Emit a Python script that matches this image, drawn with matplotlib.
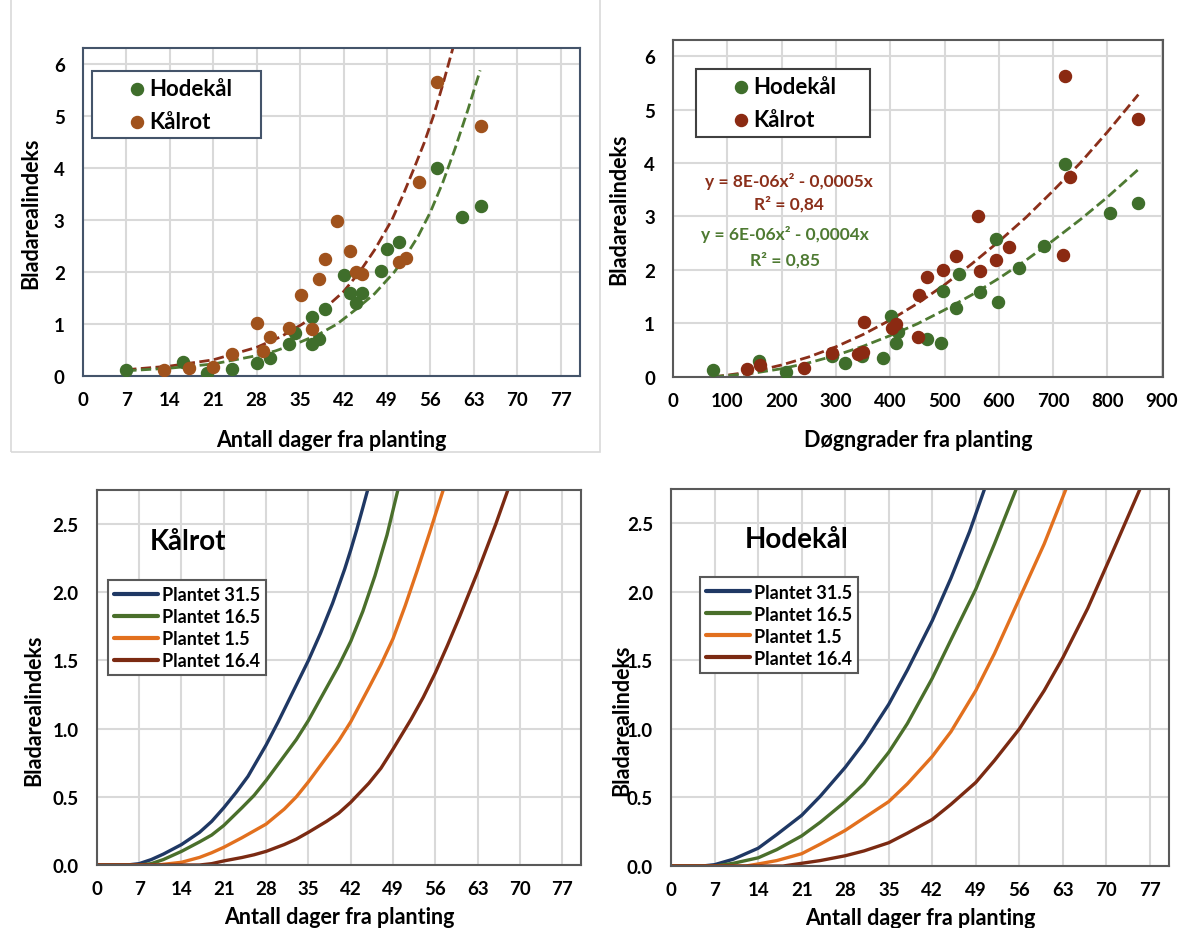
import matplotlib.pyplot as plt
from matplotlib.patches import Rectangle
import numpy as np

plt.rcParams['font.family'] = ['Lato', 'DejaVu Sans']
plt.rcParams['font.weight'] = 'bold'

# ---- top left: LAI vs days ----
hk_days = [7, 16.1, 20, 24, 28.1, 30.1, 33.2, 34.2, 37, 37, 38, 39, 42, 43, 44, 45, 48, 49, 51, 57.1, 61.1, 64.1]
hk_lai = [0.12, 0.26, 0.06, 0.14, 0.24, 0.34, 0.62, 0.83, 1.14, 0.62, 0.71, 1.28, 1.93, 1.60, 1.41, 1.59, 2.02, 2.44, 2.57, 3.99, 3.06, 3.26]
kr_days = [13.1, 17.1, 21, 24.1, 28.1, 29.1, 30.1, 33.2, 35.2, 37, 38, 39, 41, 43, 44, 45, 51, 52, 54.1, 57.1, 64.1]
kr_lai = [0.12, 0.16, 0.17, 0.42, 1.01, 0.48, 0.74, 0.93, 1.55, 0.90, 1.86, 2.25, 2.98, 2.40, 2.00, 1.96, 2.18, 2.26, 3.72, 5.64, 4.81]

# trend lines
hk_trend_x = [7, 14, 21, 28, 31, 35, 38, 41, 44, 47, 50.2, 52, 54, 56, 58, 60, 62, 64]
hk_trend_y = [0.10, 0.15, 0.23, 0.39, 0.48, 0.65, 0.80, 1.00, 1.28, 1.58, 2.00, 2.30, 2.68, 3.15, 3.72, 4.38, 5.10, 5.87]
kr_trend_x = [7, 14, 21, 28, 32, 35.4, 39, 42, 44.6, 47, 49.8, 51.6, 53.4, 55, 56.5, 58, 59.6]
kr_trend_y = [0.12, 0.19, 0.31, 0.55, 0.76, 1.00, 1.30, 1.62, 2.00, 2.42, 3.00, 3.48, 4.00, 4.48, 5.00, 5.60, 6.29]

# ---- top right: LAI vs degree days ----
hk_dd = [74.5, 158.6, 208.3, 293, 317, 348, 386, 401, 410, 415, 468, 493, 498, 521, 526, 566, 594, 599, 638, 683, 721, 805, 857]
hk_dd_lai = [0.12, 0.29, 0.08, 0.39, 0.25, 0.39, 0.35, 1.13, 0.63, 0.83, 0.70, 0.64, 1.61, 1.28, 1.92, 1.58, 2.57, 1.40, 2.04, 2.45, 3.99, 3.07, 3.26]
kr_dd = [136, 160, 241, 293, 340, 350, 352, 403, 410, 452, 453, 467, 498, 521, 562, 566, 594, 619, 718, 721, 731, 857]
kr_dd_lai = [0.14, 0.22, 0.17, 0.45, 0.42, 0.47, 1.02, 0.92, 0.98, 0.75, 1.53, 1.87, 2.00, 2.26, 3.00, 1.98, 2.19, 2.42, 2.27, 5.63, 3.73, 4.83]

dd_trend_x = [75, 100, 150, 200, 250, 300, 350, 400, 450, 500, 550, 600, 650, 700, 750, 800, 857]
kr_dd_trend = [0.0, 0.03, 0.10, 0.22, 0.37, 0.56, 0.79, 1.06, 1.37, 1.72, 2.11, 2.53, 2.98, 3.48, 4.00, 4.58, 5.28]
hk_dd_trend = [0.0, 0.02, 0.07, 0.15, 0.26, 0.40, 0.57, 0.77, 0.99, 1.25, 1.53, 1.84, 2.18, 2.55, 2.94, 3.36, 3.88]

# ---- bottom: simulated LAI for four planting dates ----
labels = ['Plantet 31.5', 'Plantet 16.5', 'Plantet 1.5', 'Plantet 16.4']
colors = ['#1F3864', '#4A6F2B', '#E2701E', '#7B2A12']

kr_curves = [
    ([0, 5, 7, 9, 11, 14, 17, 19, 21, 23, 25, 28, 30, 32, 35, 37, 39, 41, 42, 43, 44, 44.8],
     [0, 0, 0.01, 0.04, 0.08, 0.15, 0.24, 0.32, 0.42, 0.53, 0.65, 0.88, 1.05, 1.23, 1.50, 1.70, 1.92, 2.17, 2.31, 2.46, 2.62, 2.75]),
    ([0, 7, 9, 11, 14, 17, 19, 21, 24, 26, 28, 31, 33, 35, 38, 40, 42, 44, 46, 48, 49.8],
     [0, 0, 0.01, 0.04, 0.10, 0.17, 0.22, 0.29, 0.42, 0.51, 0.62, 0.80, 0.92, 1.06, 1.30, 1.46, 1.64, 1.86, 2.12, 2.42, 2.75]),
    ([0, 10, 12, 14, 17, 19, 21, 24, 26, 28, 31, 33, 35, 38, 40, 42, 45, 47, 49, 51, 53, 55, 57.3],
     [0, 0, 0.01, 0.02, 0.056, 0.09, 0.13, 0.20, 0.25, 0.30, 0.41, 0.50, 0.61, 0.79, 0.91, 1.05, 1.30, 1.47, 1.66, 1.90, 2.16, 2.43, 2.75]),
    ([0, 17, 19, 21, 24, 26, 28, 31, 33, 35, 38, 40, 42, 45, 47, 49, 52, 54, 56, 58, 60, 63, 66, 68],
     [0, 0, 0.01, 0.03, 0.055, 0.075, 0.10, 0.15, 0.19, 0.24, 0.32, 0.38, 0.46, 0.60, 0.71, 0.85, 1.07, 1.23, 1.41, 1.61, 1.82, 2.15, 2.50, 2.75]),
]
hk_curves = [
    ([0, 5, 7, 10, 14, 17, 21, 24, 28, 31, 35, 38, 42, 45, 48, 50.4],
     [0, 0, 0.01, 0.05, 0.13, 0.23, 0.37, 0.51, 0.72, 0.90, 1.18, 1.43, 1.79, 2.10, 2.44, 2.75]),
    ([0, 7, 10, 14, 17, 21, 24, 28, 31, 35, 38, 42, 45, 49, 52, 55.5],
     [0, 0, 0.02, 0.06, 0.12, 0.22, 0.32, 0.47, 0.60, 0.83, 1.04, 1.37, 1.65, 2.02, 2.35, 2.75]),
    ([0, 12, 14, 17, 21, 24, 28, 31, 35, 38, 42, 45, 49, 52, 56, 60, 63.5],
     [0, 0, 0.015, 0.04, 0.09, 0.16, 0.26, 0.35, 0.47, 0.60, 0.80, 0.98, 1.28, 1.55, 1.95, 2.35, 2.75]),
    ([0, 18, 21, 24, 28, 31, 35, 38, 42, 45, 49, 52, 56, 60, 63, 67, 70.7, 75.4],
     [0, 0, 0.02, 0.04, 0.075, 0.11, 0.17, 0.24, 0.34, 0.45, 0.61, 0.77, 1.00, 1.28, 1.52, 1.88, 2.26, 2.75]),
]

GREEN = '#3F6E2B'
BROWN1 = '#A0521C'
BROWN2 = '#8B2A12'
GRID = '#D9D9D9'

fig = plt.figure(figsize=(11.87, 9.29), dpi=100)
fig.patches.append(Rectangle((11 / 1187, 1 - 453 / 929), 589 / 1187, 460 / 929,
                             transform=fig.transFigure, fill=False,
                             edgecolor='#D9D9D9', linewidth=1.2))

ax1 = fig.add_axes([0.0697, 0.5942, 0.4190, 0.3531])
ax2 = fig.add_axes([0.5670, 0.5934, 0.4126, 0.3624])
ax3 = fig.add_axes([0.0816, 0.0678, 0.4079, 0.4037])
ax4 = fig.add_axes([0.5654, 0.0667, 0.4196, 0.4058])


def style(ax, spine_color):
    ax.grid(True, color=GRID, linewidth=1.5)
    ax.set_axisbelow(True)
    for s in ax.spines.values():
        s.set_color(spine_color)
        s.set_linewidth(1.5)
    ax.tick_params(length=0, labelsize=13.5)
    ax.tick_params(axis='x', pad=11)
    ax.tick_params(axis='y', pad=13)
    for lab in ax.get_xticklabels() + ax.get_yticklabels():
        lab.set_fontweight('bold')


def top_legend(ax, x0, y_top, w, edge):
    leg = ax.legend(loc='upper left', bbox_to_anchor=(x0, y_top - 0.2, w, 0.2),
                    mode='expand', handlelength=3.45, handletextpad=-1.18,
                    borderpad=0.3, labelspacing=0.55, scatterpoints=1,
                    fancybox=False, framealpha=1, borderaxespad=0,
                    prop={'size': 16, 'weight': 'bold'})
    leg.get_frame().set_edgecolor(edge)
    leg.get_frame().set_linewidth(1.5)


# top left
ax1.plot(kr_trend_x, kr_trend_y, '--', color='#8B2F1A', lw=2, zorder=2)
ax1.plot(hk_trend_x, hk_trend_y, '--', color='#4E7A32', lw=2, zorder=2)
ax1.scatter(hk_days, hk_lai, s=75, color=GREEN, label='Hodekål', zorder=3)
ax1.scatter(kr_days, kr_lai, s=75, color=BROWN1, label='Kålrot', zorder=3)
ax1.set_xlim(0, 80.1)
ax1.set_ylim(0, 6.3)
ax1.set_xticks(np.arange(0, 78, 7))
ax1.set_yticks(range(0, 7))
style(ax1, '#44546A')
ax1.set_xlabel('Antall dager fra planting', fontsize=15.5, fontweight='bold')
ax1.set_ylabel('Bladarealindeks', fontsize=15.5, fontweight='bold')
ax1.xaxis.set_label_coords(0.5, -0.162)
ax1.yaxis.set_label_coords(-0.084, 0.5)
top_legend(ax1, 0.018, 0.93, 0.34, '#44546A')

# top right
ax2.plot(dd_trend_x, kr_dd_trend, '--', color='#8B2F1A', lw=2, zorder=2)
ax2.plot(dd_trend_x, hk_dd_trend, '--', color='#4E7A32', lw=2, zorder=2)
ax2.scatter(hk_dd, hk_dd_lai, s=75, color=GREEN, label='Hodekål', zorder=3)
ax2.scatter(kr_dd, kr_dd_lai, s=75, color=BROWN2, label='Kålrot', zorder=3)
ax2.set_xlim(0, 902)
ax2.set_ylim(0, 6.3)
ax2.set_xticks(range(0, 901, 100))
ax2.set_yticks(range(0, 7))
style(ax2, '#595959')
ax2.set_xlabel('Døgngrader fra planting', fontsize=15.5, fontweight='bold')
ax2.set_ylabel('Bladarealindeks', fontsize=15.5, fontweight='bold')
ax2.xaxis.set_label_coords(0.5, -0.154)
ax2.yaxis.set_label_coords(-0.089, 0.5)
top_legend(ax2, 0.047, 0.914, 0.356, '#404040')
eq_kw = dict(transform=ax2.transAxes, ha='center', va='center', fontsize=12.5, fontweight='bold')
ax2.text(0.236, 0.582, 'y = 8E-06x² - 0,0005x', color='#8B2F1A', **eq_kw)
ax2.text(0.236, 0.516, 'R² = 0,84', color='#8B2F1A', **eq_kw)
ax2.text(0.229, 0.424, 'y = 6E-06x² - 0,0004x', color='#4E7A32', **eq_kw)
ax2.text(0.229, 0.350, 'R² = 0,85', color='#4E7A32', **eq_kw)

# bottom panels
for ax, curves, title, tpos, lpos, lab_x, lab_y in [
        (ax3, kr_curves, 'Kålrot', (0.188, 0.865), (0.022, 0.761), -0.109, 0.416),
        (ax4, hk_curves, 'Hodekål', (0.251, 0.867), (0.057, 0.766), -0.079, 0.39)]:
    for (x, y), lab, c in zip(curves, labels, colors):
        ax.plot(x, y, color=c, lw=2.4, label=lab, solid_capstyle='round')
    ax.set_xlim(0, 80.1)
    ax.set_ylim(0, 2.75)
    ax.set_xticks(np.arange(0, 78, 7))
    ax.set_yticks(np.arange(0, 2.6, 0.5))
    ax.set_yticklabels([f'{v:.1f}' for v in np.arange(0, 2.6, 0.5)])
    style(ax, '#595959')
    ax.set_xlabel('Antall dager fra planting', fontsize=15.5, fontweight='bold')
    ax.set_ylabel('Bladarealindeks', fontsize=15.5, fontweight='bold')
    ax.xaxis.set_label_coords(0.5, -0.108)
    ax.yaxis.set_label_coords(lab_x, lab_y)
    ax.text(tpos[0], tpos[1], title, transform=ax.transAxes, ha='center',
            va='center', fontsize=20, fontweight='bold')
    leg = ax.legend(loc='upper left', bbox_to_anchor=lpos,
                    handlelength=2.45, handletextpad=0.22, borderpad=0.35,
                    labelspacing=0.28, fancybox=False, framealpha=1,
                    borderaxespad=0, prop={'size': 13, 'weight': 'bold'})
    leg.get_frame().set_edgecolor('#595959')
    leg.get_frame().set_linewidth(1.5)
    for h in leg.get_lines():
        h.set_linewidth(3)

fig.savefig('out.png', dpi=100)
